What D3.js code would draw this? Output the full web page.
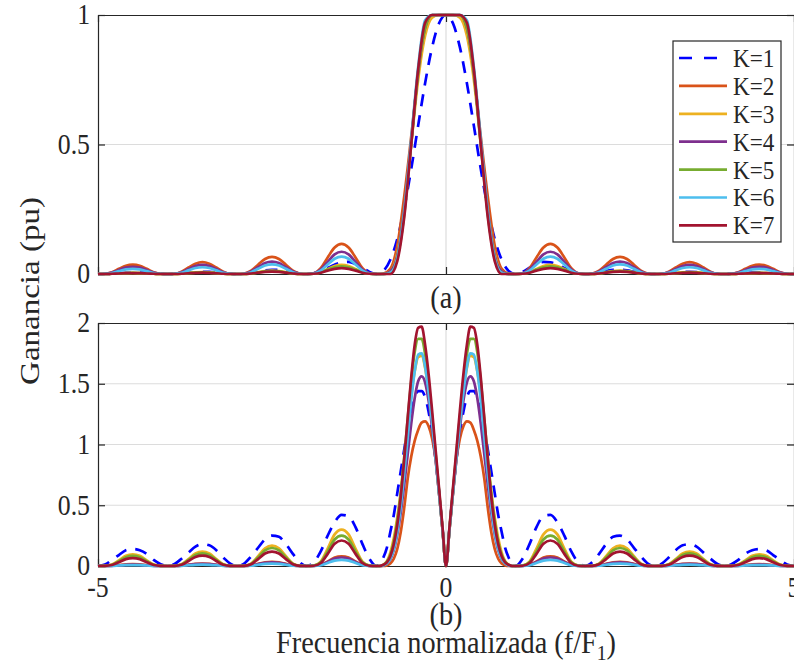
<!DOCTYPE html>
<html>
<head>
<meta charset="utf-8">
<script src="https://cdn.jsdelivr.net/npm/d3@7"></script>
<style>
  body { margin: 0; background: #fff; }
  svg text { font-family: "Liberation Serif", "Times New Roman", serif; fill: #262626; }
</style>
</head>
<body>
<div id="chart"></div>
<script>
// Ganancia vs frecuencia normalizada, K = 1..7, two panels (a) and (b)

const seriesNames = ['K=1', 'K=2', 'K=3', 'K=4', 'K=5', 'K=6', 'K=7'];
const seriesColors = ['#0000ff', '#d95319', '#edb120', '#7e2f8e', '#77ac30', '#4dbeee', '#a2142f'];

const xTicks = [-5, 0, 5];
const xTickLabels = ['-5', '0', '5'];
const yTicksA = [0, 0.5, 1];
const yTickLabelsA = ['0', '0.5', '1'];
const yTicksB = [0, 0.5, 1, 1.5, 2];
const yTickLabelsB = ['0', '0.5', '1', '1.5', '2'];

// panel (a) frequency grid
const freqA = [
  -5, -4.9, -4.8, -4.7, -4.6, -4.5, -4.4, -4.3, -4.2, -4.1,
  -4, -3.9, -3.8, -3.7, -3.6, -3.5, -3.4, -3.3, -3.2, -3.1,
  -3, -2.9, -2.8, -2.7, -2.6, -2.5, -2.4, -2.3, -2.2, -2.1,
  -2, -1.9, -1.8, -1.7, -1.6, -1.5, -1.4, -1.3, -1.2, -1.1,
  -1, -0.9, -0.8, -0.7, -0.6, -0.5, -0.4, -0.3, -0.2, -0.1,
  0,
  0.1, 0.2, 0.3, 0.4, 0.5, 0.6, 0.7, 0.8, 0.9, 1,
  1.1, 1.2, 1.3, 1.4, 1.5, 1.6, 1.7, 1.8, 1.9, 2,
  2.1, 2.2, 2.3, 2.4, 2.5, 2.6, 2.7, 2.8, 2.9, 3,
  3.1, 3.2, 3.3, 3.4, 3.5, 3.6, 3.7, 3.8, 3.9, 4,
  4.1, 4.2, 4.3, 4.4, 4.5, 4.6, 4.7, 4.8, 4.9, 5
];

const gainA1 = [
  0, 0, .001, .003, .004, .005, .005, .004, .002, .001,
  0, .001, .002, .005, .007, .008, .008, .006, .003, .001,
  0, .001, .004, .009, .014, .016, .016, .012, .007, .002,
  0, .003, .011, .023, .036, .045, .047, .039, .024, .008,
  0, .012, .055, .135, .255, .405, .573, .737, .875, .968,
  1,
  .968, .875, .737, .573, .405, .255, .135, .055, .012, 0,
  .008, .024, .039, .047, .045, .036, .023, .011, .003, 0,
  .002, .007, .012, .016, .016, .014, .009, .004, .001, 0,
  .001, .003, .006, .008, .008, .007, .005, .002, .001, 0,
  .001, .002, .004, .005, .005, .004, .003, .001, 0, 0
];
const gainA2 = [
  0, .001, .007, .020, .032, .036, .032, .020, .007, .001,
  0, .001, .009, .025, .040, .046, .040, .025, .009, .001,
  0, .002, .013, .036, .058, .066, .058, .036, .013, .002,
  0, .003, .023, .064, .102, .116, .102, .064, .023, .003,
  0, .002, .02, .11, .3, .53, .77, .95, .995, 1,
  1,
  1, .995, .95, .77, .53, .3, .11, .02, .002, 0,
  .003, .023, .064, .102, .116, .102, .064, .023, .003, 0,
  .002, .013, .036, .058, .066, .058, .036, .013, .002, 0,
  .001, .009, .025, .040, .046, .040, .025, .009, .001, 0,
  .001, .007, .020, .032, .036, .032, .020, .007, .001, 0
];
const gainA3 = [
  0, 0, .001, .002, .003, .004, .003, .002, .001, 0,
  0, 0, .001, .004, .006, .007, .006, .004, .001, 0,
  0, 0, .003, .007, .011, .013, .011, .007, .003, 0,
  0, .001, .007, .019, .031, .035, .031, .019, .007, .001,
  0, 0, .01, .08, .25, .5, .75, .92, .99, 1,
  1,
  1, .99, .92, .75, .5, .25, .08, .01, 0, 0,
  .001, .007, .019, .031, .035, .031, .019, .007, .001, 0,
  0, .003, .007, .011, .013, .011, .007, .003, 0, 0,
  0, .001, .004, .006, .007, .006, .004, .001, 0, 0,
  0, .001, .002, .003, .004, .003, .002, .001, 0, 0
];
const gainA4 = [
  0, .001, .006, .015, .025, .028, .025, .015, .006, .001,
  0, .001, .007, .019, .031, .035, .031, .019, .007, .001,
  0, .001, .010, .026, .042, .048, .042, .026, .010, .001,
  0, .003, .017, .047, .076, .086, .076, .047, .017, .003,
  0, 0, .01, .07, .25, .51, .78, .95, 1, 1,
  1,
  1, 1, .95, .78, .51, .25, .07, .01, 0, 0,
  .003, .017, .047, .076, .086, .076, .047, .017, .003, 0,
  .001, .010, .026, .042, .048, .042, .026, .010, .001, 0,
  .001, .007, .019, .031, .035, .031, .019, .007, .001, 0,
  .001, .006, .015, .025, .028, .025, .015, .006, .001, 0
];
const gainA5 = [
  0, 0, .001, .002, .003, .004, .003, .002, .001, 0,
  0, 0, .001, .003, .005, .006, .005, .003, .001, 0,
  0, 0, .002, .006, .01, .011, .01, .006, .002, 0,
  0, .001, .006, .017, .026, .03, .026, .017, .006, .001,
  0, 0, .005, .06, .23, .5, .78, .95, 1, 1,
  1,
  1, 1, .95, .78, .5, .23, .06, .005, 0, 0,
  .001, .006, .017, .026, .03, .026, .017, .006, .001, 0,
  0, .002, .006, .01, .011, .01, .006, .002, 0, 0,
  0, .001, .003, .005, .006, .005, .003, .001, 0, 0,
  0, .001, .002, .003, .004, .003, .002, .001, 0, 0
];
const gainA6 = [
  0, .001, .004, .011, .018, .02, .018, .011, .004, .001,
  0, .001, .005, .014, .023, .026, .023, .014, .005, .001,
  0, .001, .007, .020, .033, .037, .033, .020, .007, .001,
  0, .002, .013, .037, .059, .067, .059, .037, .013, .002,
  0, 0, .005, .06, .24, .52, .8, .98, 1, 1,
  1,
  1, 1, .98, .8, .52, .24, .06, .005, 0, 0,
  .002, .013, .037, .059, .067, .059, .037, .013, .002, 0,
  .001, .007, .020, .033, .037, .033, .020, .007, .001, 0,
  .001, .005, .014, .023, .026, .023, .014, .005, .001, 0,
  .001, .004, .011, .018, .02, .018, .011, .004, .001, 0
];
const gainA7 = [
  0, 0, .001, .002, .003, .003, .003, .002, .001, 0,
  0, 0, .001, .003, .004, .005, .004, .003, .001, 0,
  0, 0, .002, .005, .008, .009, .008, .005, .002, 0,
  0, .001, .005, .013, .02, .023, .02, .013, .005, .001,
  0, 0, 0, .05, .22, .5, .79, .97, 1, 1,
  1,
  1, 1, .97, .79, .5, .22, .05, 0, 0, 0,
  .001, .005, .013, .02, .023, .02, .013, .005, .001, 0,
  0, .002, .005, .008, .009, .008, .005, .002, 0, 0,
  0, .001, .003, .004, .005, .004, .003, .001, 0, 0,
  0, .001, .002, .003, .003, .003, .002, .001, 0, 0
];

// panel (b) frequency grid, finer around the main lobe
const freqB = [
  -5, -4.9, -4.8, -4.7, -4.6, -4.5, -4.4, -4.3, -4.2, -4.1,
  -4, -3.9, -3.8, -3.7, -3.6, -3.5, -3.4, -3.3, -3.2, -3.1,
  -3, -2.9, -2.8, -2.7, -2.6, -2.5, -2.4, -2.3, -2.2, -2.1,
  -2, -1.9, -1.8, -1.7, -1.6, -1.5, -1.4, -1.3, -1.2, -1.1,
  -1, -0.95, -0.9, -0.85, -0.8, -0.75, -0.7, -0.65, -0.6, -0.55,
  -0.5, -0.45, -0.4, -0.35, -0.3, -0.25, -0.2, -0.15, -0.1, -0.05,
  0,
  0.05, 0.1, 0.15, 0.2, 0.25, 0.3, 0.35, 0.4, 0.45, 0.5,
  0.55, 0.6, 0.65, 0.7, 0.75, 0.8, 0.85, 0.9, 0.95,
  1, 1.1, 1.2, 1.3, 1.4, 1.5, 1.6, 1.7, 1.8, 1.9,
  2, 2.1, 2.2, 2.3, 2.4, 2.5, 2.6, 2.7, 2.8, 2.9,
  3, 3.1, 3.2, 3.3, 3.4, 3.5, 3.6, 3.7, 3.8, 3.9,
  4, 4.1, 4.2, 4.3, 4.4, 4.5, 4.6, 4.7, 4.8, 4.9,
  5
];

const gainB1 = [
  0, .012, .05, .09, .13, .14, .13, .10, .05, .015,
  0, .016, .06, .11, .16, .18, .17, .13, .07, .02,
  0, .02, .08, .15, .22, .25, .24, .18, .10, .03,
  0, .03, .12, .25, .36, .42, .41, .32, .18, .06,
  0, .02, .07, .15, .28, .42, .60, .78, .96, 1.13,
  1.27, 1.38, 1.44, 1.44, 1.39, 1.27, 1.10, .88, .61, .31,
  0,
  .31, .61, .88, 1.10, 1.27, 1.39, 1.44, 1.44, 1.38, 1.27,
  1.13, .96, .78, .60, .42, .28, .15, .07, .02,
  0, .06, .18, .32, .41, .42, .36, .25, .12, .03,
  0, .03, .10, .18, .24, .25, .22, .15, .08, .02,
  0, .02, .07, .13, .17, .18, .16, .11, .06, .016,
  0, .015, .05, .10, .13, .14, .13, .09, .05, .012,
  0
];
const gainB2 = [
  0, 0, .002, .007, .013, .015, .013, .007, .002, 0,
  0, 0, .002, .01, .017, .02, .017, .01, .002, 0,
  0, 0, .004, .017, .03, .035, .03, .017, .004, 0,
  0, .001, .01, .038, .07, .08, .07, .038, .01, .001,
  0, 0, 0, .005, .02, .06, .14, .28, .48, .72,
  .9, 1.03, 1.12, 1.18, 1.19, 1.15, 1.05, .88, .6, .3,
  0,
  .3, .6, .88, 1.05, 1.15, 1.19, 1.18, 1.12, 1.03, .9,
  .72, .48, .28, .14, .06, .02, .005, 0, 0,
  0, .001, .01, .038, .07, .08, .07, .038, .01, .001,
  0, 0, .004, .017, .03, .035, .03, .017, .004, 0,
  0, 0, .002, .01, .017, .02, .017, .01, .002, 0,
  0, 0, .002, .007, .013, .015, .013, .007, .002, 0,
  0
];
const gainB3 = [
  0, .001, .012, .046, .084, .096, .084, .046, .012, .001,
  0, .001, .014, .057, .103, .118, .103, .057, .014, .001,
  0, .002, .02, .08, .145, .167, .145, .08, .02, .002,
  0, .003, .036, .144, .26, .30, .26, .144, .036, .003,
  0, 0, .01, .04, .11, .23, .4, .61, .87, 1.14,
  1.4, 1.6, 1.72, 1.73, 1.63, 1.43, 1.18, .9, .6, .3,
  0,
  .3, .6, .9, 1.18, 1.43, 1.63, 1.73, 1.72, 1.6, 1.4,
  1.14, .87, .61, .4, .23, .11, .04, .01, 0,
  0, .003, .036, .144, .26, .30, .26, .144, .036, .003,
  0, .002, .02, .08, .145, .167, .145, .08, .02, .002,
  0, .001, .014, .057, .103, .118, .103, .057, .014, .001,
  0, .001, .012, .046, .084, .096, .084, .046, .012, .001,
  0
];
const gainB4 = [
  0, 0, .001, .006, .01, .012, .01, .006, .001, 0,
  0, 0, .002, .009, .016, .018, .016, .009, .002, 0,
  0, 0, .004, .014, .026, .03, .026, .014, .004, 0,
  0, .001, .008, .034, .061, .07, .061, .034, .008, .001,
  0, 0, .005, .02, .055, .13, .26, .44, .67, .92,
  1.17, 1.38, 1.52, 1.56, 1.51, 1.36, 1.14, .88, .6, .3,
  0,
  .3, .6, .88, 1.14, 1.36, 1.51, 1.56, 1.52, 1.38, 1.17,
  .92, .67, .44, .26, .13, .055, .02, .005, 0,
  0, .001, .008, .034, .061, .07, .061, .034, .008, .001,
  0, 0, .004, .014, .026, .03, .026, .014, .004, 0,
  0, 0, .002, .009, .016, .018, .016, .009, .002, 0,
  0, 0, .001, .006, .01, .012, .01, .006, .001, 0,
  0
];
const gainB5 = [
  0, .001, .01, .04, .072, .083, .072, .04, .01, .001,
  0, .001, .012, .05, .09, .104, .09, .05, .012, .001,
  0, .001, .018, .071, .129, .148, .129, .071, .018, .001,
  0, .003, .03, .12, .218, .25, .218, .12, .03, .003,
  0, 0, .01, .035, .09, .2, .37, .6, .9, 1.21,
  1.52, 1.76, 1.87, 1.87, 1.74, 1.5, 1.23, .93, .62, .31,
  0,
  .31, .62, .93, 1.23, 1.5, 1.74, 1.87, 1.87, 1.76, 1.52,
  1.21, .9, .6, .37, .2, .09, .035, .01, 0,
  0, .003, .03, .12, .218, .25, .218, .12, .03, .003,
  0, .001, .018, .071, .129, .148, .129, .071, .018, .001,
  0, .001, .012, .05, .09, .104, .09, .05, .012, .001,
  0, .001, .01, .04, .072, .083, .072, .04, .01, .001,
  0
];
const gainB6 = [
  0, 0, .001, .004, .007, .008, .007, .004, .001, 0,
  0, 0, .001, .006, .01, .012, .01, .006, .001, 0,
  0, 0, .002, .01, .017, .02, .017, .01, .002, 0,
  0, .001, .006, .024, .044, .05, .044, .024, .006, .001,
  0, 0, .005, .02, .06, .14, .28, .49, .76, 1.06,
  1.36, 1.6, 1.74, 1.75, 1.64, 1.43, 1.18, .9, .6, .3,
  0,
  .3, .6, .9, 1.18, 1.43, 1.64, 1.75, 1.74, 1.6, 1.36,
  1.06, .76, .49, .28, .14, .06, .02, .005, 0,
  0, .001, .006, .024, .044, .05, .044, .024, .006, .001,
  0, 0, .002, .01, .017, .02, .017, .01, .002, 0,
  0, 0, .001, .006, .01, .012, .01, .006, .001, 0,
  0, 0, .001, .004, .007, .008, .007, .004, .001, 0,
  0
];
const gainB7 = [
  0, .001, .008, .031, .057, .065, .057, .031, .008, .001,
  0, .001, .01, .041, .074, .085, .074, .041, .01, .001,
  0, .001, .014, .057, .103, .118, .103, .057, .014, .001,
  0, .002, .025, .1, .183, .21, .183, .1, .025, .002,
  0, 0, .01, .03, .08, .18, .34, .57, .88, 1.22,
  1.55, 1.82, 1.96, 1.97, 1.82, 1.58, 1.28, .96, .64, .32,
  0,
  .32, .64, .96, 1.28, 1.58, 1.82, 1.97, 1.96, 1.82, 1.55,
  1.22, .88, .57, .34, .18, .08, .03, .01, 0,
  0, .002, .025, .1, .183, .21, .183, .1, .025, .002,
  0, .001, .014, .057, .103, .118, .103, .057, .014, .001,
  0, .001, .01, .041, .074, .085, .074, .041, .01, .001,
  0, .001, .008, .031, .057, .065, .057, .031, .008, .001,
  0
];

const W = 794, H = 664;
const plotLeft = 98, plotRight = 794;
const axisColor = '#262626';
const gridColor = '#dcdcdc';
// the source figure's lettering is a bit taller than wide
const stretch = 'scale(1.03,1.15)';

const svg = d3.select('#chart').append('svg')
  .attr('width', W)
  .attr('height', H);

const x = d3.scaleLinear().domain([-5, 5]).range([plotLeft, plotRight]);

const panels = [
  { freq: freqA, gains: [gainA1, gainA2, gainA3, gainA4, gainA5, gainA6, gainA7],
    top: 15, bottom: 274, yMax: 1, yTicks: yTicksA, yLabels: yTickLabelsA,
    showX: false, tag: '(a)', tagY: 297 },
  { freq: freqB, gains: [gainB1, gainB2, gainB3, gainB4, gainB5, gainB6, gainB7],
    top: 323, bottom: 566, yMax: 2, yTicks: yTicksB, yLabels: yTickLabelsB,
    showX: true, tag: '(b)', tagY: 614 }
];

function label(px, py, txt, size, anchor) {
  return svg.append('text')
    .attr('transform', `translate(${px},${py}) ${stretch}`)
    .attr('text-anchor', anchor || 'middle')
    .attr('dominant-baseline', 'central')
    .attr('font-size', size)
    .text(txt);
}

function styleAxis(sel) {
  sel.select('.domain').attr('stroke', axisColor).attr('stroke-width', 1.2);
  sel.selectAll('.tick line').attr('stroke', axisColor).attr('stroke-width', 1.2);
  sel.selectAll('.tick text').remove();
}

function drawPanel(p) {
  const y = d3.scaleLinear().domain([0, p.yMax]).range([p.bottom, p.top]);
  const g = svg.append('g');

  // grid
  g.append('g').selectAll('line')
    .data(p.yTicks.filter(t => t > 0 && t < p.yMax))
    .join('line')
    .attr('x1', x(-5)).attr('x2', x(5))
    .attr('y1', d => y(d)).attr('y2', d => y(d))
    .attr('stroke', gridColor).attr('stroke-width', 1.2);
  g.append('line')
    .attr('x1', x(0)).attr('x2', x(0))
    .attr('y1', y(0)).attr('y2', y(p.yMax))
    .attr('stroke', gridColor).attr('stroke-width', 1.2);

  // box with inward ticks
  const left = d3.axisLeft(y).tickValues(p.yTicks).tickSize(-7).tickSizeOuter(0);
  const right = d3.axisRight(y).tickValues(p.yTicks).tickSize(-7).tickSizeOuter(0);
  const bottom = d3.axisBottom(x).tickValues(xTicks).tickSize(-7).tickSizeOuter(0);
  const top = d3.axisTop(x).tickValues(xTicks).tickSize(-7).tickSizeOuter(0);

  g.append('g').attr('transform', `translate(${plotLeft},0)`).call(left).call(styleAxis);
  g.append('g').attr('transform', `translate(${plotRight},0)`).call(right).call(styleAxis);
  g.append('g').attr('transform', `translate(0,${p.bottom})`).call(bottom).call(styleAxis);
  g.append('g').attr('transform', `translate(0,${p.top})`).call(top).call(styleAxis);

  // tick labels
  p.yTicks.forEach((t, i) => label(90, y(t), p.yLabels[i], 25, 'end'));
  if (p.showX) {
    xTicks.forEach((t, i) => label(x(t), p.bottom + 22, xTickLabels[i], 25));
  }

  // curves
  const line = d3.line()
    .x(d => x(d[0]))
    .y(d => y(d[1]))
    .curve(d3.curveMonotoneX);

  p.gains.forEach((vals, k) => {
    const pts = p.freq.map((f, i) => [f, vals[i]]);
    g.append('path')
      .datum(pts)
      .attr('d', line)
      .attr('fill', 'none')
      .attr('stroke', seriesColors[k])
      .attr('stroke-width', 2.7)
      .attr('stroke-linejoin', 'round')
      .attr('stroke-dasharray', k === 0 ? '12,9' : null);
  });

  label(x(0), p.tagY, p.tag, 27.5);
}

panels.forEach(drawPanel);

// axis titles
svg.append('text')
  .attr('transform', `translate(30,291) scale(1.03,1.2) rotate(-90)`)
  .attr('text-anchor', 'middle').attr('dominant-baseline', 'central')
  .attr('font-size', 27.5)
  .text('Ganancia (pu)');

const xt = svg.append('text')
  .attr('transform', `translate(${x(0)},653) ${stretch}`)
  .attr('text-anchor', 'middle')
  .attr('font-size', 27.5);
xt.append('tspan').text('Frecuencia normalizada (f/F');
xt.append('tspan').attr('font-size', 19).attr('dy', 6).text('1');
xt.append('tspan').attr('dy', -6).text(')');

// legend
const lg = svg.append('g').attr('transform', 'translate(673,41)');
lg.append('rect')
  .attr('width', 108).attr('height', 201)
  .attr('fill', '#fff')
  .attr('stroke', axisColor).attr('stroke-width', 1.2);
seriesNames.forEach((name, k) => {
  const cy = 17 + k * 27.9;
  lg.append('line')
    .attr('x1', 6).attr('x2', 54).attr('y1', cy).attr('y2', cy)
    .attr('stroke', seriesColors[k]).attr('stroke-width', 2.7)
    .attr('stroke-dasharray', k === 0 ? '13,12' : null);
  lg.append('text')
    .attr('transform', `translate(60,${cy}) ${stretch}`)
    .attr('dominant-baseline', 'central')
    .attr('font-size', 22.5)
    .text(name);
});
</script>
</body>
</html>
